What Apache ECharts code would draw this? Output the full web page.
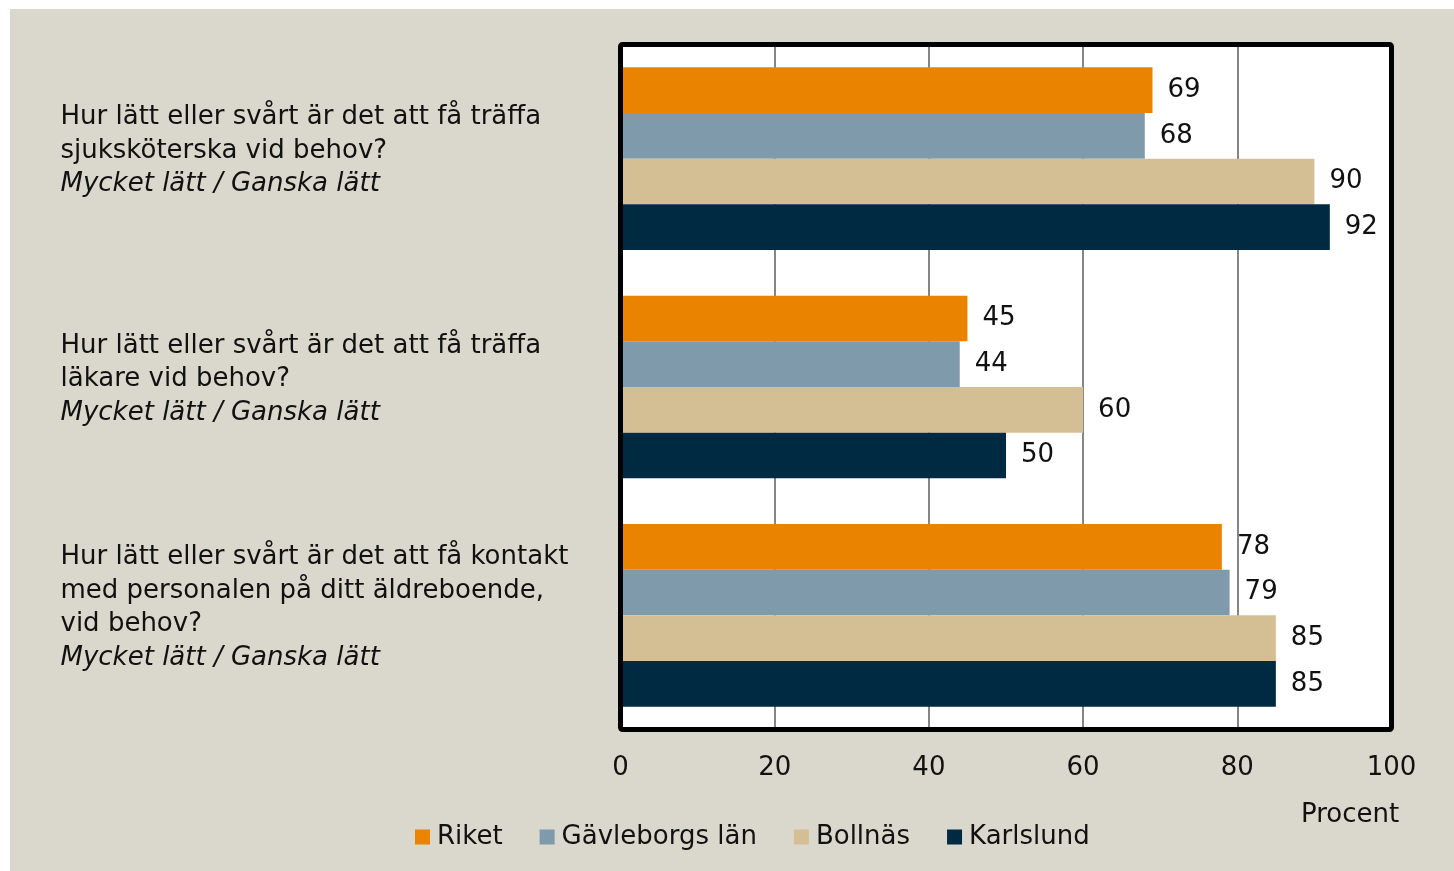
<!DOCTYPE html>
<html>
<head>
<meta charset="utf-8">
<script src="https://cdn.jsdelivr.net/npm/echarts@6/dist/echarts.min.js"></script>
<style>
  html, body { margin: 0; padding: 0; background: #fff; }
  #chart { position: absolute; left: 10px; top: 9px; width: 1444px; height: 862px; }
</style>
</head>
<body>
<div id="chart"></div>
<script>
// frågor (kategorier)
var categories = [
  'Hur lätt eller svårt är det att få träffa\nsjuksköterska vid behov?',
  'Hur lätt eller svårt är det att få träffa\nläkare vid behov?',
  'Hur lätt eller svårt är det att få kontakt\nmed personalen på ditt äldreboende,\nvid behov?'
];
var subLabel = 'Mycket lätt / Ganska lätt';
var seriesNames = ['Riket', 'Gävleborgs län', 'Bollnäs', 'Karlslund'];
var riket = [69, 45, 78];
var gavleborg = [68, 44, 79];
var bollnas = [90, 60, 85];
var karlslund = [92, 50, 85];
var xTicks = [0, 20, 40, 60, 80, 100];

(function() {
  var myChart = echarts.init(document.getElementById('chart'));
  var font = 'DejaVu Sans';
  var fs = 26;
  var myColor = ['#E98300', '#7F9AAB', '#D4BF95', '#002A42'];
  var values = [riket, gavleborg, bollnas, karlslund];

  var series = seriesNames.map(function(name, i) {
    return {
      name: name,
      type: 'bar',
      data: values[i],
      barGap: 0,
      barCategoryGap: '20%',
      itemStyle: { color: myColor[i] },
      label: {
        show: true,
        position: 'right',
        distance: 15,
        color: '#111',
        fontFamily: font,
        fontSize: fs
      }
    };
  });

  var option = {
    backgroundColor: '#DAD8CC',
    animation: false,
    title: {
      text: 'Procent',
      left: 1286,
      top: 788,
      textStyle: { color: '#111', fontFamily: font, fontSize: fs, fontWeight: 'normal' }
    },
    legend: {
      data: seriesNames,
      left: 400,
      top: 810,
      itemWidth: 15,
      itemHeight: 15,
      itemGap: 37,
      icon: 'rect',
      textStyle: { color: '#111', fontFamily: font, fontSize: fs, padding: [0, 0, 0, 2] }
    },
    grid: {
      left: 610.5,
      top: 35.5,
      width: 771,
      height: 685,
      show: true,
      backgroundColor: '#fff',
      borderWidth: 0
    },
    // rammen runt plotytan
    graphic: [{
      type: 'rect',
      z: 100,
      shape: { x: 610.5, y: 35.5, width: 771, height: 685, r: 2 },
      style: { fill: null, stroke: '#000', lineWidth: 5 }
    }],
    xAxis: {
      type: 'value',
      min: xTicks[0],
      max: xTicks[xTicks.length - 1],
      interval: 20,
      axisLine: { show: false },
      axisTick: { show: false },
      axisLabel: {
        margin: 26,
        color: '#111',
        fontFamily: font,
        fontSize: fs
      },
      splitLine: { lineStyle: { color: '#858585', width: 2 } }
    },
    yAxis: {
      type: 'category',
      data: categories,
      inverse: true,
      axisLine: { show: false },
      axisTick: { show: false },
      axisLabel: {
        align: 'left',
        margin: 560,
        padding: [0, 0, 15, 0],
        formatter: function(v) {
          return '{q|' + v + '}\n{i|' + subLabel + '}';
        },
        rich: {
          q: { color: '#111', fontFamily: font, fontSize: fs, lineHeight: 33.5 },
          i: { color: '#111', fontFamily: font, fontSize: fs, fontStyle: 'italic', lineHeight: 33.5 }
        }
      }
    },
    series: series
  };
  myChart.setOption(option);
  window.addEventListener('resize', function() {
    myChart.resize();
  });
})();
</script>
</body>
</html>
